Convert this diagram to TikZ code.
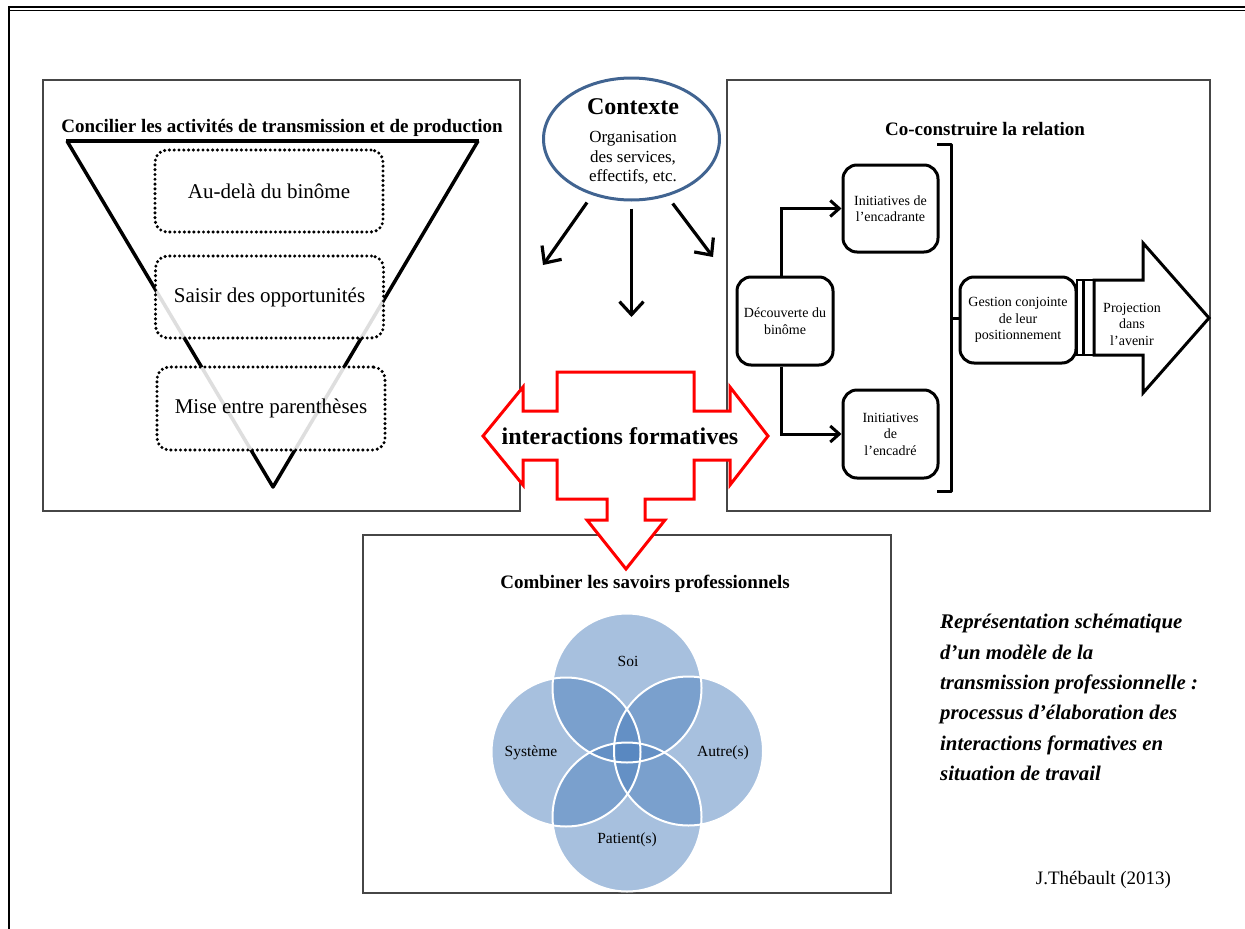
\documentclass[tikz,border=0pt]{standalone}
\usepackage{fontspec}
\setmainfont{Liberation Serif}
\usetikzlibrary{arrows.meta,shapes.geometric}
\definecolor{ctxblue}{RGB}{65,100,145}
\definecolor{vennblue}{RGB}{79,129,189}
\definecolor{framegrey}{RGB}{70,70,70}
\definecolor{arrred}{RGB}{255,0,0}
\begin{document}
\begin{tikzpicture}[x=1pt,y=-1pt,
  frame/.style={draw=framegrey, line width=1.3pt},
  titletext/.style={font=\fontsize{19}{22}\selectfont\bfseries, inner sep=0pt},
  dotbox/.style={draw, line width=3.4pt, dash pattern=on 0pt off 4.8pt, line cap=round,
    rounded corners=12pt, fill=white, fill opacity=0.87, text opacity=1,
    minimum width=228pt, minimum height=82pt, inner sep=0pt,
    font=\fontsize{21}{24}\selectfont},
  rbox/.style={draw, line width=3pt, rounded corners=14pt, align=center, inner sep=1pt,
    font=\fontsize{14}{16.5}\selectfont},
  conn/.style={line width=3pt, -{Straight Barb[length=9pt,width=16pt]}},
  carrow/.style={line width=3.2pt, -{Straight Barb[length=13pt,width=24pt]}},
  vennlabel/.style={font=\fontsize{15.5}{18}\selectfont, inner sep=0pt},
  bigarrow/.style={draw, line width=3pt, line join=miter, fill=white}
]
\useasboundingbox (0,0) rectangle (1245,929);

% outer frame
\draw[line width=2.5pt] (8,7) -- (1245,7);
\draw[line width=1pt] (10,10.5) -- (1245,10.5);
\draw[line width=2.2pt] (9,6) -- (9,929);

% ---------- left box ----------
\draw[frame] (43,80) rectangle (520,511);
\node[titletext] (ltitle) at (282,128) {Concilier les activités de transmission et de production};
\draw[line width=3.5pt, line join=round] (67,141) -- (273,487) -- (478,141);
\draw[line width=4.5pt] (66,141) -- (479,141);
\node[dotbox] (b1) at (269,191) {Au-delà du binôme};
\node[dotbox] (b2) at (269.5,297) {Saisir des opportunités};
\node[dotbox, minimum height=83pt] (b3) at (271,408.5) {Mise entre parenthèses};

% ---------- context ----------
\node[draw=ctxblue, line width=3pt, ellipse, minimum width=176pt, minimum height=122pt, inner sep=0pt] (ctx) at (631.5,139) {};
\node[font=\fontsize{24}{28}\selectfont\bfseries, inner sep=0pt] (ctxt) at (633,107) {Contexte};
\node[align=center, font=\fontsize{17}{19.5}\selectfont, inner sep=0pt] (ctxs) at (633,158) {Organisation\\des services,\\effectifs, etc.};
\coordinate (aL) at (543,265);
\coordinate (aM) at (631.5,317);
\coordinate (aR) at (713,257);
\draw[carrow, shorten <=9pt] (ctx.235) -- (aL);
\draw[carrow, shorten <=7pt] (ctx.south) -- (aM);
\draw[carrow, shorten <=9pt] (ctx.-58) -- (aR);

% ---------- right box ----------
\draw[frame] (727,80) rectangle (1210,511);
\node[titletext] (rtitle) at (985,129) {Co-construire la relation};
\node[rbox, minimum width=96pt, minimum height=88pt] (dec) at (785,321) {Découverte du\\binôme};
\node[rbox, minimum width=95pt, minimum height=87pt] (enc1) at (890.5,208.5) {Initiatives de\\l’encadrante};
\node[rbox, minimum width=95pt, minimum height=88pt] (enc2) at (890.5,434) {Initiatives\\de\\l’encadré};
\draw[conn] ([xshift=-4pt]dec.north) |- (enc1.west);
\draw[conn] ([xshift=-4pt]dec.south) |- (enc2.west);
\node[rbox, minimum width=116pt, minimum height=86pt] (gest) at (1018,320) {Gestion conjointe\\de leur\\positionnement};
\draw[line width=3pt, line join=round] (937,144) -- (951,144) -- (951,491) -- (937,491);
\coordinate (bmid) at (951,318);
\draw[line width=3pt] (bmid) -- (gest.west |- bmid);
\draw[line width=2.5pt] (1077,280) rectangle (1083.5,355);
\draw[line width=2.5pt] (1083.5,280) rectangle (1094,355);
\draw[bigarrow] (1094,280) -- (1143,280) -- (1143,243) -- (1209,318) -- (1143,393) -- (1143,355) -- (1094,355) -- cycle;
\node[align=center, font=\fontsize{14}{16.5}\selectfont, inner sep=0pt] (proj) at (1132,324) {Projection\\dans\\l’avenir};

% ---------- bottom box ----------
\draw[frame] (363,535) rectangle (891,893);
\node[titletext] (btitle) at (645,584) {Combiner les savoirs professionnels};
\fill[vennblue, fill opacity=0.5] (627,688) circle[radius=74.5];
\fill[vennblue, fill opacity=0.5] (566,752) circle[radius=74.5];
\fill[vennblue, fill opacity=0.5] (688.5,751) circle[radius=74.5];
\fill[vennblue, fill opacity=0.5] (627,817) circle[radius=74.5];
\draw[white, line width=2pt] (627,688) circle[radius=74.5];
\draw[white, line width=2pt] (566,752) circle[radius=74.5];
\draw[white, line width=2pt] (688.5,751) circle[radius=74.5];
\draw[white, line width=2pt] (627,817) circle[radius=74.5];
\node[vennlabel] (soi) at (628,661) {Soi};
\node[vennlabel] (sys) at (531,753) {Système};
\node[vennlabel] (aut) at (723,753) {Autre(s)};
\node[vennlabel] (pat) at (627,840) {Patient(s)};

% ---------- red arrow ----------
\draw[bigarrow, draw=arrred] (557,372) -- (694,372) -- (694,411) -- (730,411) -- (730,387) -- (768,436) -- (730,485) -- (730,460) -- (694,460) -- (694,499) -- (645,499) -- (645,520) -- (665,520) -- (626,569) -- (587,520) -- (607,520) -- (607,499) -- (557,499) -- (557,460) -- (523,460) -- (523,485) -- (483,436) -- (523,387) -- (523,411) -- (557,411) -- cycle;
\node[font=\fontsize{24}{28}\selectfont\bfseries, inner sep=0pt] (inter) at (620,436) {interactions formatives};

% ---------- caption ----------
\node[anchor=west, align=left, inner sep=0pt, font=\fontsize{20.8}{30.3}\selectfont\bfseries\itshape] (cap) at (940,697.5) {Représentation schématique\\d’un modèle de la\\transmission professionnelle :\\processus d’élaboration des\\interactions formatives en\\situation de travail};
\node[font=\fontsize{19}{22}\selectfont, inner sep=0pt] (auth) at (1103.5,880) {J.Thébault (2013)};
\end{tikzpicture}
\end{document}
